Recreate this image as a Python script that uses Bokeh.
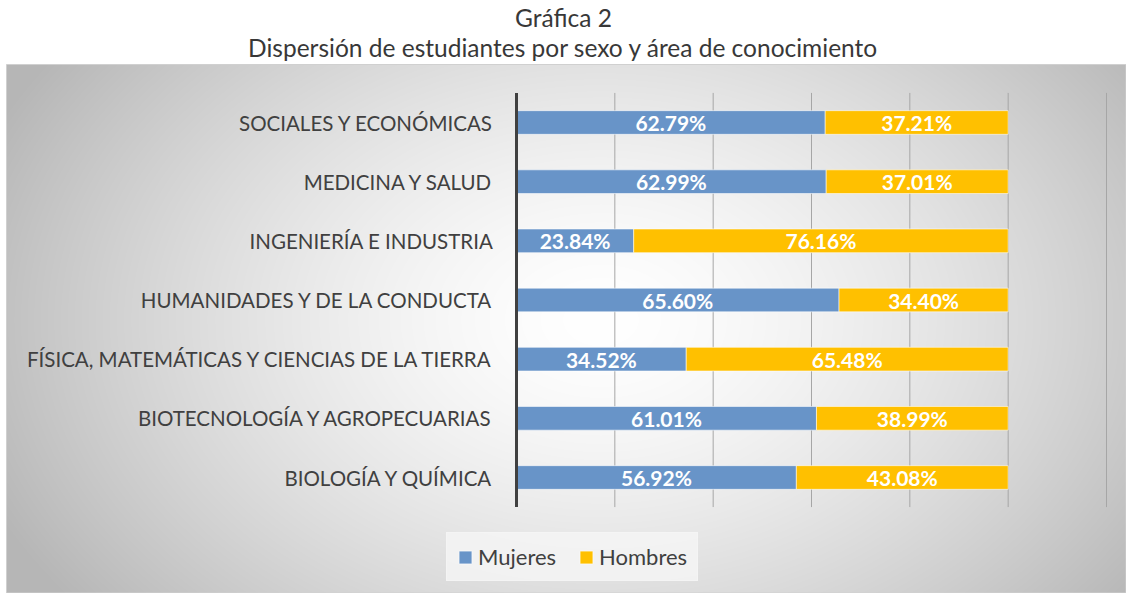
import numpy as np
from bokeh.plotting import figure
from bokeh.models import ColumnDataSource, Legend, LegendItem
from bokeh.core.properties import value
from bokeh.embed import file_html
from bokeh.resources import INLINE

# ---------------- data ----------------
categories = [
    "SOCIALES Y ECONÓMICAS",
    "MEDICINA Y SALUD",
    "INGENIERÍA E INDUSTRIA",
    "HUMANIDADES Y DE LA CONDUCTA",
    "FÍSICA, MATEMÁTICAS Y CIENCIAS DE LA TIERRA",
    "BIOTECNOLOGÍA Y AGROPECUARIAS",
    "BIOLOGÍA Y QUÍMICA",
]
mujeres = [62.79, 62.99, 23.84, 65.60, 34.52, 61.01, 56.92]
hombres = [37.21, 37.01, 76.16, 34.40, 65.48, 38.99, 43.08]
series_names = ["Mujeres", "Hombres"]
x_ticks = [0, 20, 40, 60, 80, 100, 120]
title_lines = ["Gráfica 2", "Dispersión de estudiantes por sexo y área de conocimiento"]

# ---------------- layout geometry (page pixels) ----------------
W, H = 1126, 593
X0_PX, XMAX_PX = 516, 1106
ROW_TOP_PX, ROW_BOT_PX = 122, 477
n = len(categories)
ppu_x = (XMAX_PX - X0_PX) / x_ticks[-1]
ppu_y = (ROW_BOT_PX - ROW_TOP_PX) / (n - 1)
x_start = -X0_PX / ppu_x
x_end = x_start + W / ppu_x
y_end = ROW_BOT_PX / ppu_y
y_start = (ROW_BOT_PX - H) / ppu_y


def px_x(px):
    return x_start + px / ppu_x


def px_y(py):
    return (ROW_BOT_PX - py) / ppu_y


BLUE = "#6894C8"
YELLOW = "#FFC000"
FONT = "Lato"
LEGEND_BG = "#F4F4F4"

ypos = [n - 1 - i for i in range(n)]
src = ColumnDataSource(dict(
    cat=categories,
    y=ypos,
    Mujeres=mujeres,
    Hombres=hombres,
    m_mid=[m / 2 for m in mujeres],
    h_mid=[m + h / 2 for m, h in zip(mujeres, hombres)],
    m_lab=[f"{m:.2f}%" for m in mujeres],
    h_lab=[f"{h:.2f}%" for h in hombres],
))

p = figure(width=W, height=H, output_backend="svg", toolbar_location=None,
           x_range=(x_start, x_end), y_range=(y_start, y_end),
           x_axis_location=None, y_axis_location=None,
           min_border=0, outline_line_color=None,
           background_fill_color="white", border_fill_color="white")
p.grid.visible = False

# background gradient of the chart area
BX0, BY0, BX1, BY1 = 6, 64, W, H
gw, gh = BX1 - BX0, BY1 - BY0
xs = np.arange(gw) + BX0
ys = BY1 - np.arange(gh)  # row 0 = bottom
XX, YY = np.meshgrid(xs, ys)
cx, cy, a, b = 600.0, 320.0, 600.0, 420.0
d = np.sqrt(((XX - cx) / a) ** 2 + ((YY - cy) / b) ** 2)
v = np.clip(255 - 62 * np.clip(d, 0, 1.3) ** 1.5, 182, 255).astype(np.uint32)
img = (255 << 24) | (v << 16) | (v << 8) | v
p.image_rgba(image=[img.astype(np.uint32)], x=px_x(BX0), y=px_y(BY1),
             dw=gw / ppu_x, dh=gh / ppu_y)
p.quad(left=px_x(BX0), right=px_x(BX1 - 0.5), top=px_y(BY0), bottom=px_y(BY1 - 0.5),
       fill_color=None, line_color="#D0D0D0", line_width=1)

# gridlines
p.segment(x0=x_ticks[1:], x1=x_ticks[1:], y0=-0.5, y1=n - 0.5,
          line_color="#A6A6A6", line_width=1)

# bars
rs = p.hbar_stack(series_names, y="y", height=0.4, color=[BLUE, YELLOW],
                  source=src, line_color="white", line_alpha=0.55, line_width=1)

# vertical axis line
p.segment(x0=[x_ticks[0]], x1=[x_ticks[0]], y0=[-0.5], y1=[n - 0.5],
          line_color="#404040", line_width=3)

# category labels
p.text(x=px_x(493), y="y", text="cat", source=src, text_align="right",
       text_baseline="middle", text_font=value(FONT), text_font_size="20.5px",
       text_color="#404040")

# value labels
for xcol, tcol in (("m_mid", "m_lab"), ("h_mid", "h_lab")):
    p.text(x=xcol, y="y", text=tcol, source=src, text_align="center",
           text_baseline="middle", text_font=value(FONT), text_font_size="21px",
           text_font_style="bold", text_color="white")

# titles
p.text(x=[px_x(563)], y=[px_y(17)], text=[title_lines[0]], text_align="center",
       text_baseline="middle", text_font=value(FONT), text_font_size="24.5px",
       text_color="#383838")
p.text(x=[px_x(563)], y=[px_y(47)], text=[title_lines[1]], text_align="center",
       text_baseline="middle", text_font=value(FONT), text_font_size="24.5px",
       text_color="#383838")

legend = Legend(items=[LegendItem(label=series_names[0], renderers=[rs[0]]),
                       LegendItem(label=series_names[1], renderers=[rs[1]])],
                orientation="horizontal", location=(446, 12))
legend.background_fill_color = LEGEND_BG
legend.background_fill_alpha = 0.85
legend.border_line_color = LEGEND_BG
legend.border_line_alpha = 0.85
legend.label_text_font = FONT
legend.label_text_font_size = "22px"
legend.label_text_color = "#404040"
legend.label_height = 25
legend.glyph_width = 16
legend.glyph_height = 16
legend.padding = 10
legend.spacing = 22
legend.label_standoff = 5
legend.margin = 0
p.add_layout(legend)

open("out.html", "w").write(file_html(p, INLINE))
